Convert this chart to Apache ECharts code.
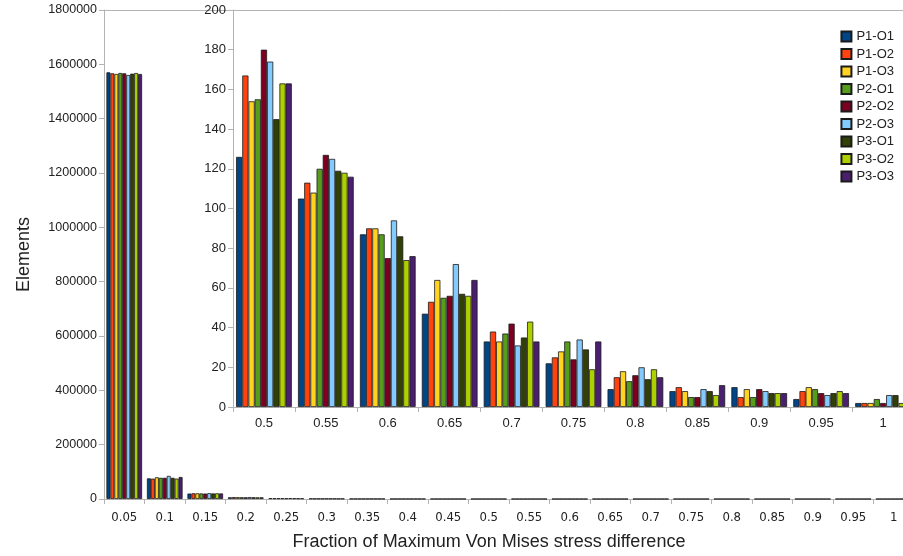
<!doctype html>
<html>
<head>
<meta charset="utf-8">
<title>Elements</title>
<script src="https://cdn.jsdelivr.net/npm/echarts@6/dist/echarts.min.js"></script>
<style>
	html, body { margin: 0; padding: 0; background: #fff; }
	#main { width: 903px; height: 556px; }
</style>
</head>
<body>
<div id="main"></div>
<script type="text/javascript">
// categories on the x axis
var fractions = ['0.05', '0.1', '0.15', '0.2', '0.25', '0.3', '0.35', '0.4', '0.45', '0.5',
	'0.55', '0.6', '0.65', '0.7', '0.75', '0.8', '0.85', '0.9', '0.95', '1'];

// element counts per series
var p1o1 = [1570600, 76000, 20000, 6500, 2800, 1500, 800, 450, 250, 126, 105, 87, 47, 33, 22, 9, 8, 10, 4, 2];
var p1o2 = [1567000, 75000, 21000, 7000, 2600, 1400, 780, 420, 240, 167, 113, 90, 53, 38, 25, 15, 10, 5, 8, 2];
var p1o3 = [1564400, 80000, 21000, 6800, 2700, 1450, 760, 430, 245, 154, 108, 90, 64, 33, 28, 18, 8, 9, 10, 2];
var p2o1 = [1568100, 78000, 20500, 6600, 2650, 1420, 790, 440, 255, 155, 120, 87, 55, 37, 33, 13, 5, 5, 9, 4];
var p2o2 = [1567000, 78000, 20000, 6400, 2600, 1400, 770, 460, 260, 180, 127, 75, 56, 42, 24, 16, 5, 9, 7, 2];
var p2o3 = [1560700, 85000, 21500, 7200, 2900, 1500, 820, 470, 270, 174, 125, 94, 72, 31, 34, 20, 9, 8, 6, 6];
var p3o1 = [1565500, 78000, 20500, 6500, 2700, 1430, 780, 440, 250, 145, 119, 86, 57, 35, 29, 14, 8, 7, 7, 6];
var p3o2 = [1568100, 75000, 21000, 6300, 2550, 1380, 760, 420, 240, 163, 118, 74, 56, 43, 19, 19, 6, 7, 8, 2];
var p3o3 = [1564400, 81000, 20500, 6200, 2500, 1360, 750, 410, 235, 163, 116, 76, 64, 33, 33, 15, 11, 7, 7, 2];

var seriesNames = ['P1-O1', 'P1-O2', 'P1-O3', 'P2-O1', 'P2-O2', 'P2-O3', 'P3-O1', 'P3-O2', 'P3-O3'];
var seriesData = [p1o1, p1o2, p1o3, p2o1, p2o2, p2o3, p3o1, p3o2, p3o3];
var colors = ['#004586', '#ff420e', '#ffd320', '#579d1c', '#7e0021', '#83caff', '#314004', '#aecf00', '#4b1f6f'];

// inset starts at 0.5
var insetStart = 9;

var mainLabels = [0, 200000, 400000, 600000, 800000, 1000000, 1200000, 1400000, 1600000, 1800000];

var axisGray = '#b3b3b3';
var textColor = '#222';
var narrowFont = '"Liberation Sans Narrow", "DejaVu Sans Condensed", "Liberation Sans", sans-serif';

var chart = echarts.init(document.getElementById('main'));

var series = [];
for (var i = 0; i < seriesNames.length; i++) {
	// big chart
	series.push({
		name: seriesNames[i],
		type: 'bar',
		xAxisIndex: 0,
		yAxisIndex: 0,
		data: seriesData[i],
		barGap: '0%',
		barCategoryGap: '12%',
		itemStyle: { color: colors[i], borderColor: '#1a1a1a', borderWidth: 0.8 },
		animation: false
	});
	// zoomed chart
	series.push({
		name: seriesNames[i],
		type: 'bar',
		xAxisIndex: 2,
		yAxisIndex: 1,
		data: seriesData[i].slice(insetStart),
		barGap: '0%',
		barCategoryGap: '10%',
		itemStyle: { color: colors[i], borderColor: '#1a1a1a', borderWidth: 0.8 },
		animation: false
	});
}

chart.setOption({
	animation: false,
	backgroundColor: '#fff',
	color: colors,
	legend: {
		data: seriesNames,
		orient: 'vertical',
		right: 4,
		top: 25,
		icon: 'rect',
		itemWidth: 10,
		itemHeight: 10,
		itemGap: 4.5,
		textStyle: { fontFamily: 'Liberation Sans', fontSize: 13, color: textColor }
	},
	grid: [
		{ left: 104, top: 10, right: -11, bottom: 57, outerBoundsMode: 'none' },
		{ left: 233, top: 10, right: -11, bottom: 149, outerBoundsMode: 'none' }
	],
	xAxis: [
		{
			gridIndex: 0,
			type: 'category',
			data: fractions,
			name: 'Fraction of Maximum Von Mises stress difference',
			nameLocation: 'middle',
			nameGap: 34,
			nameTextStyle: { fontFamily: 'Liberation Sans', fontSize: 18, color: textColor, padding: [0, 0, 0, -40] },
			axisLine: { lineStyle: { color: axisGray } },
			axisTick: { show: true, length: 5, lineStyle: { color: axisGray } },
			axisLabel: { fontFamily: narrowFont, fontSize: 13, color: textColor, margin: 12 }
		},
		{
			// top border line
			gridIndex: 0,
			type: 'category',
			position: 'top',
			data: fractions,
			axisLine: { lineStyle: { color: axisGray } },
			axisTick: { show: false },
			axisLabel: { show: false }
		},
		{
			gridIndex: 1,
			type: 'category',
			data: fractions.slice(insetStart),
			axisLine: { lineStyle: { color: axisGray } },
			axisTick: { show: true, length: 5, lineStyle: { color: axisGray } },
			axisLabel: { fontFamily: 'Liberation Sans', fontSize: 13, color: textColor, margin: 10 }
		}
	],
	yAxis: [
		{
			gridIndex: 0,
			type: 'value',
			min: mainLabels[0],
			max: mainLabels[mainLabels.length - 1],
			interval: 200000,
			name: 'Elements',
			nameLocation: 'middle',
			nameGap: 71,
			nameTextStyle: { fontFamily: 'Liberation Sans', fontSize: 18, color: textColor },
			axisLine: { show: true, lineStyle: { color: axisGray } },
			axisTick: { show: true, length: 5, lineStyle: { color: axisGray } },
			splitLine: { show: false },
			axisLabel: {
				fontFamily: 'Liberation Sans', fontSize: 12.5, color: textColor, margin: 7,
				formatter: function (v) { return String(v); }
			}
		},
		{
			gridIndex: 1,
			type: 'value',
			min: 0,
			max: 200,
			interval: 20,
			axisLine: { show: true, lineStyle: { color: axisGray } },
			axisTick: { show: true, length: 5, lineStyle: { color: axisGray } },
			splitLine: { show: false },
			axisLabel: { fontFamily: 'Liberation Sans', fontSize: 13, color: textColor, margin: 7 }
		}
	],
	series: series
});
</script>
</body>
</html>
